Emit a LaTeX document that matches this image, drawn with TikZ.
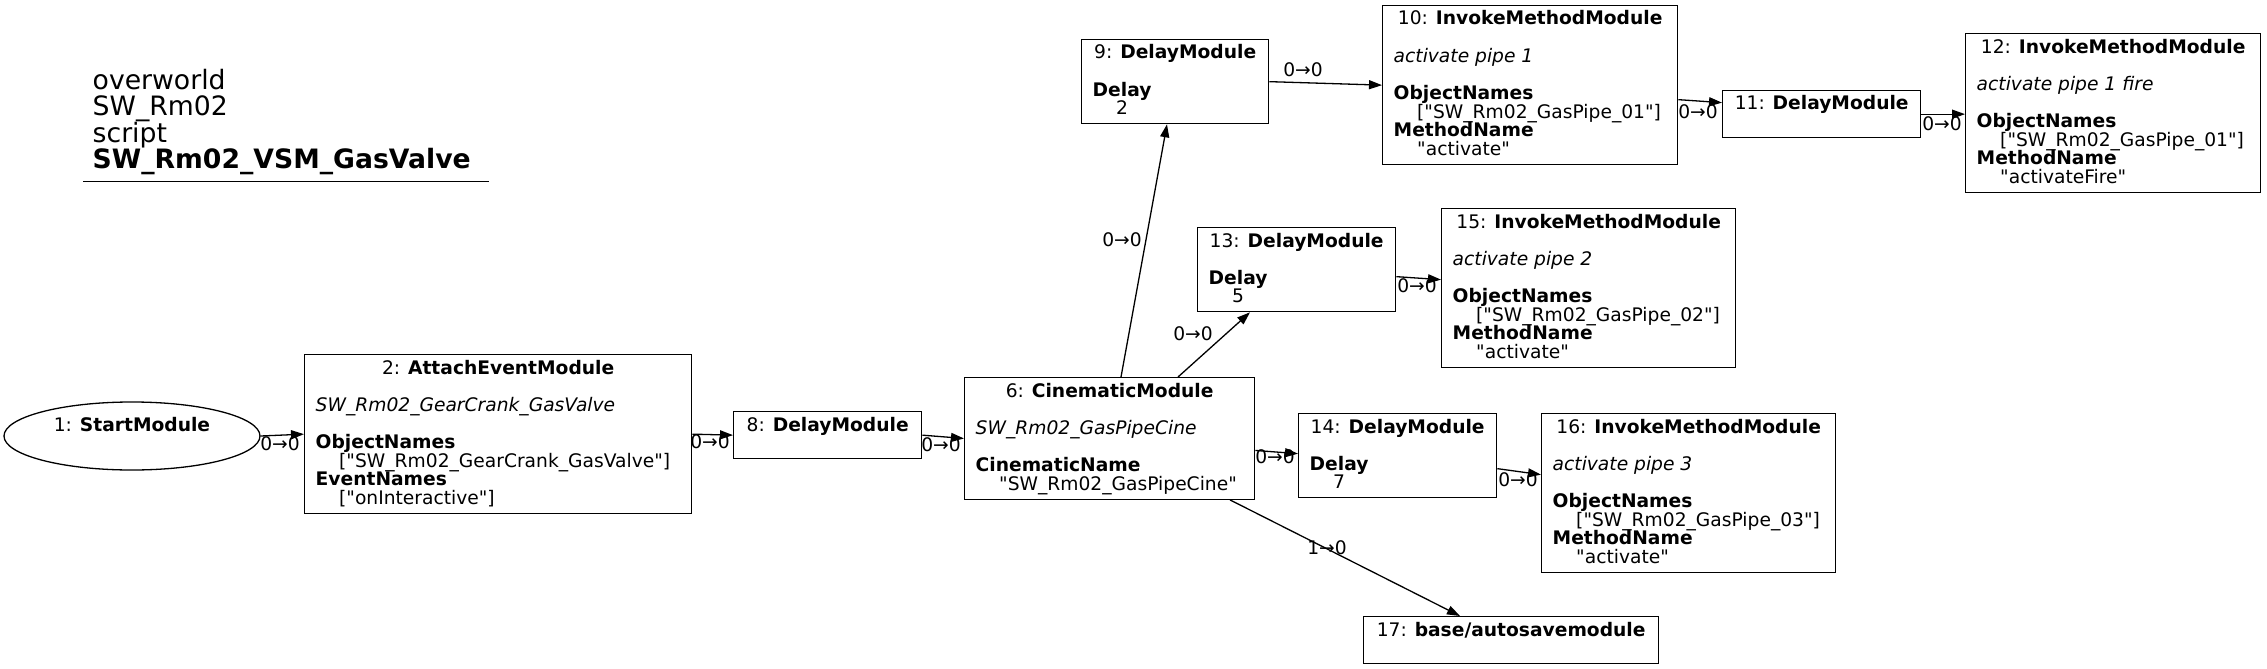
\documentclass[tikz,border=0pt]{standalone}
\usepackage{fontspec}
\setmainfont{DejaVu Sans}[Ligatures=TeXOff]
\usetikzlibrary{calc,arrows.meta,shapes.geometric}
\newcommand{\myind}{\hspace*{23.5pt}}
\newcommand{\mybodyfont}{\fontsize{18.67}{18.67}\selectfont\lineskiplimit=-30pt\relax\lineskip=0pt\relax}
\newcommand{\myhdrfont}{\fontsize{26.67}{26.4}\selectfont\lineskiplimit=-30pt\relax\lineskip=0pt\relax}
\tikzset{
  box/.style={draw=black, line width=1.3pt, inner sep=0pt, rectangle, anchor=north west},
  ttl/.style={anchor=base, inner sep=0pt, font=\mybodyfont},
  bdy/.style={anchor=base west, inner sep=0pt, align=left, font=\mybodyfont},
  elab/.style={inner sep=0pt, font=\mybodyfont},
  conn/.style={line width=1.3pt, -{Triangle[length=13pt,width=9pt]}},
}
% base anchor of a multi-line node is the baseline of its LAST line:
% first body baseline is top+57.3, line pitch 18.67
\begin{document}
\begin{tikzpicture}[x=1pt,y=-1pt]
\fill[white] (0,0) rectangle (2267,669);
\useasboundingbox (0,0) rectangle (2267,669);

% header
\node[anchor=base west, inner sep=0pt, align=left, font=\myhdrfont] (hdr) at (92.5,168.7)
  {overworld\\SW\_Rm02\\script\\\textbf{SW\_Rm02\_VSM\_GasValve}};
\draw[line width=1.3pt] (83,181.5) -- (489,181.5);

% start node
\node[draw=black, line width=1.3pt, ellipse, minimum width=256pt, minimum height=68pt, inner sep=0pt] (n1) at (132,436) {};
\node[ttl] (t1) at ($(n1.center)+(0,-4.5)$) {1: \textbf{StartModule}};

% boxes
\node[box, minimum width=387pt, minimum height=159pt] (n2) at (304,354) {};
\node[ttl] (t2) at ($(n2.north)+(0,20)$) {2: \textbf{AttachEventModule}};
\node[bdy] (b2) at ($(n2.north west)+(11.5,150.65)$) {\textit{SW\_Rm02\_GearCrank\_GasValve}\\ \\ \textbf{ObjectNames}\\ \myind["SW\_Rm02\_GearCrank\_GasValve"]\\ \textbf{EventNames}\\ \myind["onInteractive"]};

\node[box, minimum width=188pt, minimum height=47pt] (n8) at (733,411) {};
\node[ttl] (t8) at ($(n8.north)+(0,20)$) {8: \textbf{DelayModule}};

\node[box, minimum width=290pt, minimum height=121.6pt] (n6) at (964,377) {};
\node[ttl] (t6) at ($(n6.north)+(0,20)$) {6: \textbf{CinematicModule}};
\node[bdy] (b6) at ($(n6.north west)+(11.5,113.3)$) {\textit{SW\_Rm02\_GasPipeCine}\\ \\ \textbf{CinematicName}\\ \myind"SW\_Rm02\_GasPipeCine"};

\node[box, minimum width=187pt, minimum height=84pt] (n9) at (1081,39) {};
\node[ttl] (t9) at ($(n9.north)+(0,20)$) {9: \textbf{DelayModule}};
\node[bdy] (b9) at ($(n9.north west)+(11.5,75.97)$) {\textbf{Delay}\\ \myind 2};

\node[box, minimum width=295pt, minimum height=159pt] (n10) at (1382,5) {};
\node[ttl] (t10) at ($(n10.north)+(0,20)$) {10: \textbf{InvokeMethodModule}};
\node[bdy] (b10) at ($(n10.north west)+(11.5,150.65)$) {\textit{activate pipe 1}\\ \\ \textbf{ObjectNames}\\ \myind["SW\_Rm02\_GasPipe\_01"]\\ \textbf{MethodName}\\ \myind"activate"};

\node[box, minimum width=198pt, minimum height=47pt] (n11) at (1722,90) {};
\node[ttl] (t11) at ($(n11.north)+(0,20)$) {11: \textbf{DelayModule}};

\node[box, minimum width=295pt, minimum height=159pt] (n12) at (1965,33) {};
\node[ttl] (t12) at ($(n12.north)+(0,20)$) {12: \textbf{InvokeMethodModule}};
\node[bdy] (b12) at ($(n12.north west)+(11.5,150.65)$) {\textit{activate pipe 1 fire}\\ \\ \textbf{ObjectNames}\\ \myind["SW\_Rm02\_GasPipe\_01"]\\ \textbf{MethodName}\\ \myind"activateFire"};

\node[box, minimum width=198pt, minimum height=84pt] (n13) at (1197,227) {};
\node[ttl] (t13) at ($(n13.north)+(0,20)$) {13: \textbf{DelayModule}};
\node[bdy] (b13) at ($(n13.north west)+(11.5,75.97)$) {\textbf{Delay}\\ \myind 5};

\node[box, minimum width=294pt, minimum height=159pt] (n15) at (1441,208) {};
\node[ttl] (t15) at ($(n15.north)+(0,20)$) {15: \textbf{InvokeMethodModule}};
\node[bdy] (b15) at ($(n15.north west)+(11.5,150.65)$) {\textit{activate pipe 2}\\ \\ \textbf{ObjectNames}\\ \myind["SW\_Rm02\_GasPipe\_02"]\\ \textbf{MethodName}\\ \myind"activate"};

\node[box, minimum width=198pt, minimum height=84pt] (n14) at (1298,413) {};
\node[ttl] (t14) at ($(n14.north)+(0,20)$) {14: \textbf{DelayModule}};
\node[bdy] (b14) at ($(n14.north west)+(11.5,75.97)$) {\textbf{Delay}\\ \myind 7};

\node[box, minimum width=294pt, minimum height=159pt] (n16) at (1541,413) {};
\node[ttl] (t16) at ($(n16.north)+(0,20)$) {16: \textbf{InvokeMethodModule}};
\node[bdy] (b16) at ($(n16.north west)+(11.5,150.65)$) {\textit{activate pipe 3}\\ \\ \textbf{ObjectNames}\\ \myind["SW\_Rm02\_GasPipe\_03"]\\ \textbf{MethodName}\\ \myind"activate"};

\node[box, minimum width=295pt, minimum height=47pt] (n17) at (1363,616) {};
\node[ttl] (t17) at ($(n17.north)+(0,20)$) {17: \textbf{base/autosavemodule}};

% connectors
\draw[conn] (n1.east) -- (n2.west);
\draw[conn] (n2.east) -- (n8.west);
\draw[conn] (n8.east) -- (n6.west);
\draw[conn] ($(n6.north west)+(157,0)$) -- ($(n9.south west)+(86,0)$);
\draw[conn] ($(n6.north west)+(214,0)$) -- ($(n13.south west)+(53,0)$);
\draw[conn] (n9.east) -- (n10.west);
\draw[conn] ($(n10.east)+(0,14.5)$) -- ($(n11.west)+(0,-11.5)$);
\draw[conn] (n11.east) -- (n12.west |- n11.east);
\draw[conn] ($(n13.east)+(0,7)$) -- ($(n15.west)+(0,-8.5)$);
\draw[conn] ($(n6.east)+(0,12)$) -- ($(n14.west)+(0,-2)$);
\draw[conn] ($(n14.east)+(0,13)$) -- ($(n16.west)+(0,-18.5)$);
\draw[conn] ($(n6.south west)+(266,0)$) -- ($(n17.north west)+(97,0)$);

% connector labels
\node[elab] (l1) at (280,444) {0→0};
\node[elab] (l2) at (710,442) {0→0};
\node[elab] (l3) at (941,445) {0→0};
\node[elab] (l4) at (1122,240) {0→0};
\node[elab] (l5) at (1193,334) {0→0};
\node[elab] (l6) at (1303,70) {0→0};
\node[elab] (l7) at (1698,112) {0→0};
\node[elab] (l8) at (1942,124) {0→0};
\node[elab] (l9) at (1417,286) {0→0};
\node[elab] (l10) at (1275,457) {0→0};
\node[elab] (l11) at (1518,480) {0→0};
\node[elab] (l12) at (1327,548) {1→0};
\end{tikzpicture}
\end{document}
